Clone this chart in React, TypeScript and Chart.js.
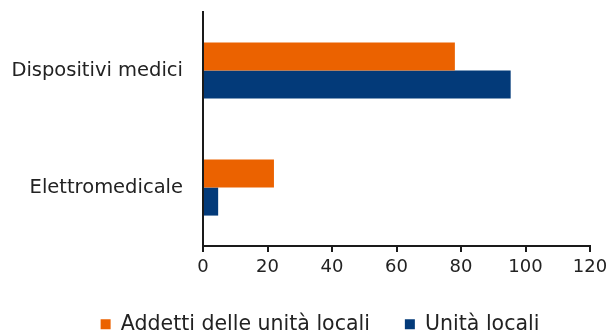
import React, { useEffect, useRef } from "react";
import { Chart, registerables } from "chart.js";

Chart.register(...registerables);

const categories = ["Dispositivi medici", "Elettromedicale"];
const addettiValues = [78.1, 22.0];
const unitaValues = [95.4, 4.7];
const seriesNames = ["Addetti delle unità locali", "Unità locali"];
const xMin = 0;
const xMax = 120;
const xStep = 20;

const FONT = "'DejaVu Sans', sans-serif";

const legendShift = {
  id: "legendShift",
  afterLayout(chart: any) {
    const l = chart.legend;
    if (!l) return;
    l.left += 25;
    l.right += 25;
    l.top += 3;
    l.bottom += 3;
  },
};

export default function App() {
  const ref = useRef<HTMLCanvasElement | null>(null);

  useEffect(() => {
    if (!ref.current) return;
    const chart = new Chart(ref.current, {
      type: "bar",
      data: {
        labels: categories,
        datasets: [
          {
            label: seriesNames[0],
            data: addettiValues,
            backgroundColor: "#EB6200",
            barPercentage: 1,
            categoryPercentage: 0.48,
          },
          {
            label: seriesNames[1],
            data: unitaValues,
            backgroundColor: "#033A79",
            barPercentage: 1,
            categoryPercentage: 0.48,
          },
        ],
      },
      plugins: [legendShift],
      options: {
        indexAxis: "y",
        responsive: false,
        animation: false,
        layout: { padding: { top: 12, right: 21, left: 0, bottom: 0 } },
        plugins: {
          tooltip: { enabled: false },
          legend: {
            position: "bottom",
            maxHeight: 57,
            labels: {
              boxWidth: 10,
              boxHeight: 10,
              padding: 35,
              color: "#222",
              font: { family: FONT, size: 20.5 },
            },
          },
        },
        scales: {
          x: {
            min: xMin,
            max: xMax,
            ticks: { stepSize: xStep, color: "#222", padding: 5, font: { family: FONT, size: 18 } },
            grid: { drawOnChartArea: false, drawTicks: true, tickLength: 6, color: "#1a1a1a", lineWidth: 2 },
            border: { display: true, color: "#1a1a1a", width: 2 },
            afterFit: (s: any) => {
              s.height = 30;
              s.paddingLeft = 0;
              s.paddingRight = 0;
            },
          },
          y: {
            ticks: { color: "#222", padding: 20, font: { family: FONT, size: 19.5 } },
            grid: { display: false, drawTicks: false },
            border: { display: true, color: "#1a1a1a", width: 2 },
            afterFit: (s: any) => {
              s.width = 203;
              s.paddingTop = 0;
              s.paddingBottom = 0;
            },
          },
        },
      },
    });
    return () => chart.destroy();
  }, []);

  return (
    <div style={{ position: "absolute", left: 0, top: 0, width: 611, height: 333, background: "#fff" }}>
      <canvas ref={ref} width={611} height={333} />
    </div>
  );
}
